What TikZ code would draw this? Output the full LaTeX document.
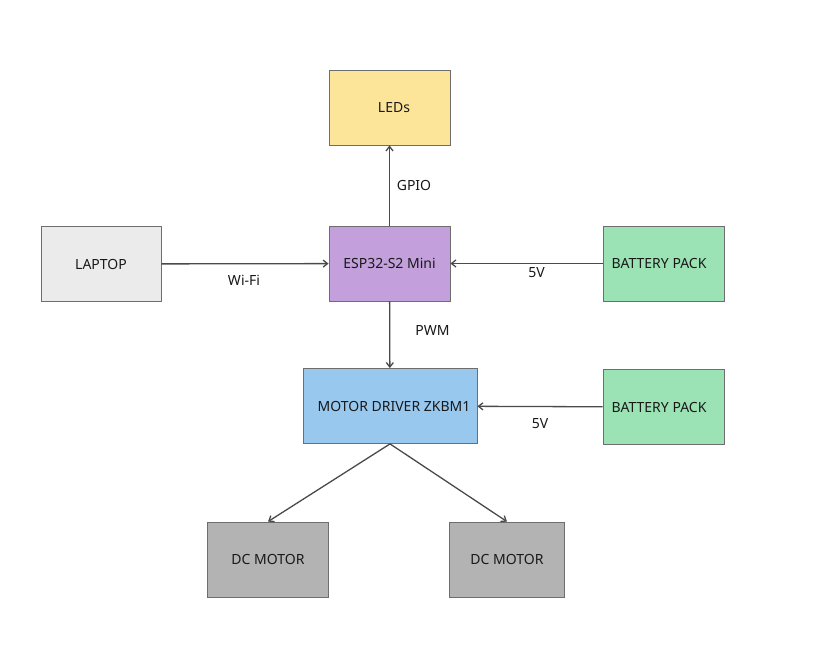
\documentclass[tikz,border=0pt]{standalone}
\usepackage{fontspec}
\setmainfont{Noto Sans}
\usetikzlibrary{arrows.meta}
\definecolor{ledfill}{HTML}{FCE499}
\definecolor{espfill}{HTML}{C3A0DC}
\definecolor{lapfill}{HTML}{EBEBEB}
\definecolor{batfill}{HTML}{9BE3B5}
\definecolor{drvfill}{HTML}{99C8EF}
\definecolor{dcfill}{HTML}{B3B3B3}
\definecolor{edgegray}{HTML}{4A4A4A}
\tikzset{
	block/.style={draw=edgegray!80,line width=0.8pt,minimum height=75pt,inner sep=0pt,font=\fontsize{14}{16}\selectfont,text=black!90},
	tag/.style={inner sep=0pt,font=\fontsize{14}{16}\selectfont,text=black!90},
	link/.style={draw=edgegray,line width=1.3pt,-{Straight Barb[length=4.5pt,width=7pt]}}
}
\begin{document}
\begin{tikzpicture}[x=1pt,y=1pt]
	\useasboundingbox (0,0) rectangle (818,-658);
	\node [block,fill=ledfill,minimum width=121pt] (leds) at (389.5,-107.5) {\hspace*{9pt}LEDs};
	\node [block,fill=espfill,minimum width=121pt] (esp) at (389.5,-263.5) {ESP32-S2 Mini};
	\node [block,fill=lapfill,minimum width=120pt] (laptop) at (101,-264) {LAPTOP};
	\node [block,fill=batfill,minimum width=121pt] (batone) at (663.5,-263.5) {BATTERY PACK\hspace*{9pt}};
	\node [block,fill=drvfill,minimum width=174pt] (driver) at (390,-406) {\hspace*{8pt}MOTOR DRIVER ZKBM1};
	\node [block,fill=batfill,minimum width=121pt] (battwo) at (663.5,-407) {BATTERY PACK\hspace*{9pt}};
	\node [block,fill=dcfill,minimum width=121pt] (dcone) at (268,-559.5) {DC MOTOR};
	\node [block,fill=dcfill,minimum width=115pt] (dctwo) at (507,-559.5) {DC MOTOR};
	\node [tag] (gpio) at (414,-185.5) {GPIO};
	\node [tag] (wifi) at (244,-280.5) {Wi-Fi};
	\node [tag] (vone) at (536.5,-273) {5V};
	\node [tag] (pwm) at (432.5,-330.5) {PWM};
	\node [tag] (vtwo) at (540,-423.5) {5V};
	\draw [link] (esp) -- (leds);
	\draw [link] (laptop) -- (esp);
	\draw [link] (batone) -- (esp);
	\draw [link] (esp) -- (driver);
	\draw [link] (battwo) -- (driver);
	\draw [link] (driver.south) -- (dcone.north);
	\draw [link] (driver.south) -- (dctwo.north);
\end{tikzpicture}
\end{document}
